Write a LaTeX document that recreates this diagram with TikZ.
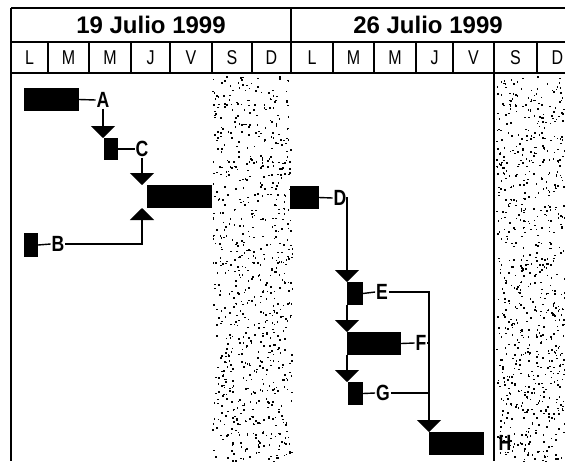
\documentclass[tikz,border=0pt]{standalone}
\usepackage{fontspec}
\setmainfont{Liberation Sans}
\usetikzlibrary{arrows.meta,calc}
\newcommand\narrowtxt[1]{\scalebox{0.8}[1]{#1}}
\begin{document}
\begin{tikzpicture}[x=1pt,y=-1pt,
  bar/.style={fill=black,draw=none,inner sep=0pt,outer sep=0pt,anchor=north west},
  lab/.style={inner sep=0pt,outer sep=1pt,font=\fontsize{22}{22}\selectfont\bfseries},
  day/.style={inner sep=0pt,font=\fontsize{20}{20}\selectfont},
  week/.style={inner sep=0pt,font=\fontsize{24}{24}\selectfont\bfseries},
  conn/.style={line width=1.4pt},
  arr/.style={line width=1.4pt,-{Triangle[width=24pt,length=12pt]}},
  grid/.style={line width=1.8pt}]
\useasboundingbox (0,0) rectangle (565,461);
\clip (0,0) rectangle (565,461);
% weekend stipple
\pgfmathsetseed{4711}
\foreach \i in {1,...,800}{
  \pgfmathsetmacro\xx{212+80*rnd}\pgfmathsetmacro\yy{76+385*rnd}
  \fill (\xx,\yy) rectangle ++(1.6,1.6);
}
\foreach \i in {1,...,800}{
  \pgfmathsetmacro\xx{496+72*rnd}\pgfmathsetmacro\yy{76+385*rnd}
  \fill (\xx,\yy) rectangle ++(1.6,1.6);
}
% header
\draw[grid] (11,8) -- (570,8);
\draw[grid] (11,42) -- (570,42);
\draw[grid] (11,73) -- (570,73);
\draw[grid] (11,8) -- (11,461);
\draw[grid] (291,8) -- (291,73);
\draw[grid] (494,73) -- (494,461);
\foreach \x in {48,89,131,170,212,252,333,374,416,453,494,537}{
  \draw[line width=1.2pt] (\x,42) -- (\x,73);
}
\node[week] (w1) at (151,25) {19 Julio 1999};
\node[week] (w2) at (428,25) {26 Julio 1999};
\foreach \x/\d [count=\k] in {29.5/L,68.5/M,110/M,150.5/J,191/V,232/S,271.5/D,
  312/L,353.5/M,395/M,434.5/J,473.5/V,515.5/S,557.5/D}{
  \node[day] (d\k) at (\x,57.5) {\narrowtxt{\d}};
}
% week 1 bars
\node[bar,minimum width=55pt,minimum height=23pt] (A) at (24,88) {};
\node[bar,minimum width=14pt,minimum height=22pt] (C) at (104,138) {};
\node[bar,minimum width=65pt,minimum height=23pt] (W) at (147,185) {};
\node[bar,minimum width=14pt,minimum height=24pt] (B) at (24,233) {};
\node[lab] (la) at (103,100) {\narrowtxt{A}};
\node[lab] (lc) at (142,149) {\narrowtxt{C}};
\node[lab] (lb) at (58,244) {\narrowtxt{B}};
\draw[conn] (A.east) -- (la.west);
\draw[arr] (la.south) -- (la.south |- C.north);
\draw[conn] (C.east) -- (lc.west);
\draw[arr] (lc.south) -- (lc.south |- W.north);
\draw[conn] (B.east) -- (lb.west);
\draw[arr] (lb.east) -| (lc.south |- W.south);
% week 2 bars
\node[bar,minimum width=29pt,minimum height=23pt] (D) at (290,186) {};
\node[bar,minimum width=16pt,minimum height=23pt] (E) at (347,282) {};
\node[bar,minimum width=54pt,minimum height=23pt] (F) at (347,332) {};
\node[bar,minimum width=15pt,minimum height=23pt] (G) at (348,382) {};
\node[bar,minimum width=55pt,minimum height=23pt] (H) at (429,432) {};
\node[lab] (ld) at (340,198) {\narrowtxt{D}};
\node[lab] (le) at (382,292) {\narrowtxt{E}};
\node[lab] (lf) at (421,343) {\narrowtxt{F}};
\node[lab] (lg) at (383,393) {\narrowtxt{G}};
\node[lab] (lh) at (505,443) {\narrowtxt{H}};
\draw[conn] (D.east) -- (ld.west);
\draw[arr] (ld.east) -| (E.north west);
\draw[conn] (E.east) -- (le.west);
\draw[arr] (E.south west) -- (F.north west);
\draw[conn] (F.east) -- (lf.west);
\draw[arr] (F.south west) -- (F.south west |- G.north);
\draw[conn] (G.east) -- (lg.west);
\draw[arr] (le.east) -| (H.north west);
\draw[conn] (lf.east) -- (lf.east -| H.west);
\draw[conn] (lg.east) -- (lg.east -| H.west);
\end{tikzpicture}
\end{document}
